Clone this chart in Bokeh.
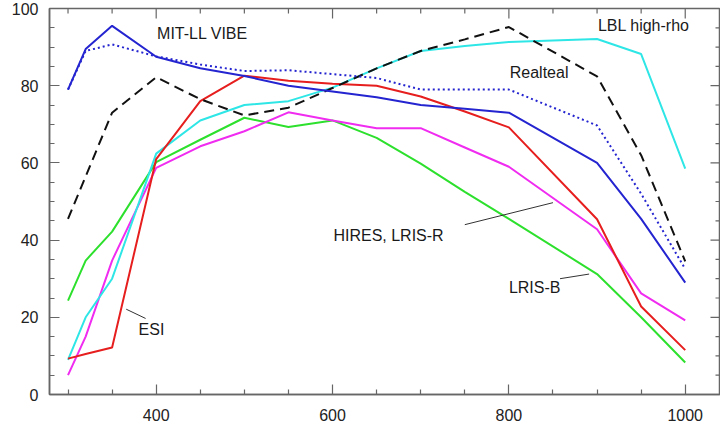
import math
from bokeh.plotting import figure
from bokeh.models import FixedTicker, Range1d
from bokeh.core.properties import value
from bokeh.embed import file_html
from bokeh.resources import INLINE

# ---- data (wavelength in nm, throughput in %) ----
wavelength = [300, 320, 350, 400, 450, 500, 550, 600, 650, 700, 750, 800, 900, 950, 1000]

mitll_vibe = [79, 89.5, 95.5, 87.5, 84.5, 82.5, 80, 78.5, 77, 75, 74, 73, 60, 45.5, 29]
realteal   = [79, 89, 90.7, 87.6, 85.5, 83.8, 84, 83, 82, 79, 79, 79, 69.7, 52, 32.5]
lbl_dashed = [45.5, 56.5, 73, 82.2, 76.5, 72.3, 74.3, 79.4, 84.5, 89, 92, 95.2, 82.4, 62, 34.5]
lbl_high   = [9, 20, 30, 62.4, 71, 75, 76, 79.5, 84.5, 89, 90.3, 91.3, 92.1, 88.2, 58.5]
hires      = [5, 15, 34.7, 58.7, 64.3, 68.2, 73.1, 71, 69, 69, 64, 59, 42.8, 26.2, 19.2]
esi        = [9.3, 10.5, 12.2, 61, 76, 82.6, 81.3, 80.5, 80, 77.2, 73.3, 69.2, 45.4, 22.8, 11.5]
lris_b     = [24.3, 34.7, 42.2, 60.2, 66, 71.7, 69.3, 71, 66.5, 59.8, 52.5, 45.5, 31.2, 20, 8.3]

label_text = ["MIT-LL VIBE", "LBL high-rho", "Realteal", "HIRES, LRIS-R", "LRIS-B", "ESI"]
label_x = [401, 901, 801, 601, 800, 380]
label_y = [93.5, 95.6, 83.4, 41.2, 27.7, 16.8]

leader_x0 = [750, 858, 366]
leader_y0 = [44, 30, 22.1]
leader_x1 = [850, 891, 388]
leader_y1 = [49.7, 31.2, 19.7]

x_major = [400, 600, 800, 1000]
x_minor = [300, 350, 450, 500, 550, 650, 700, 750, 850, 900, 950]
y_major = [0, 20, 40, 60, 80, 100]
y_minor = [5, 10, 15, 25, 30, 35, 45, 50, 55, 65, 70, 75, 85, 90, 95]

X0, X1 = 279, 1040
Y0, Y1 = 0, 100
FONT = "Liberation Sans"
AX = "#666666"

p = figure(width=720, height=425, output_backend="svg", toolbar_location=None,
           title=None,
           x_range=Range1d(X0, X1), y_range=Range1d(Y0, Y1),
           min_border_left=49, min_border_right=0, min_border_top=8, min_border_bottom=31)
p.outline_line_color = AX
p.outline_line_width = 1.5
p.grid.visible = False
p.background_fill_color = "white"
p.border_fill_color = "white"

p.xaxis.ticker = FixedTicker(ticks=x_major, minor_ticks=x_minor)
p.yaxis.ticker = FixedTicker(ticks=y_major, minor_ticks=y_minor)
for ax in p.xaxis + p.yaxis:
    ax.axis_line_color = AX
    ax.axis_line_width = 1.5
    ax.major_tick_line_color = AX
    ax.minor_tick_line_color = AX
    ax.major_tick_line_width = 1.2
    ax.minor_tick_line_width = 1.2
    ax.major_tick_in = 10
    ax.major_tick_out = 0
    ax.minor_tick_in = 5
    ax.minor_tick_out = 0
    ax.major_label_text_font = FONT
    ax.major_label_text_font_size = "16px"
    ax.major_label_text_color = "#222222"
p.xaxis.major_label_standoff = 14
p.yaxis.major_label_standoff = 11

# mirrored ticks on the top and right edges of the frame
tick_kw = dict(line_color=AX, line_width=1.2, length_units="screen")
p.ray(x=x_major, y=[Y1] * len(x_major), length=10, angle=-math.pi / 2, **tick_kw)
p.ray(x=x_minor, y=[Y1] * len(x_minor), length=5, angle=-math.pi / 2, **tick_kw)
p.ray(x=[X1] * len(y_major), y=y_major, length=10, angle=math.pi, **tick_kw)
p.ray(x=[X1] * len(y_minor), y=y_minor, length=5, angle=math.pi, **tick_kw)

W = 2
p.line(wavelength, lris_b, line_color="#2ee02e", line_width=W)
p.line(wavelength, hires, line_color="#f02cf0", line_width=W)
p.line(wavelength, lbl_high, line_color="#2ee6e6", line_width=W)
p.line(wavelength, esi, line_color="#e61e1e", line_width=W)
p.line(wavelength, lbl_dashed, line_color="#111111", line_width=W, line_dash="10 6")
p.line(wavelength, realteal, line_color="#2424d0", line_width=W, line_dash="2 3")
p.line(wavelength, mitll_vibe, line_color="#2424d0", line_width=W)

p.segment(x0=leader_x0, y0=leader_y0, x1=leader_x1, y1=leader_y1,
          line_color="#333333", line_width=1)

p.text(x=label_x, y=label_y, text=label_text, text_font=value(FONT),
       text_font_size=value("16px"), text_color="#1a1a1a",
       text_align="left", text_baseline="middle")

open("out.html", "w").write(file_html(p, INLINE))
